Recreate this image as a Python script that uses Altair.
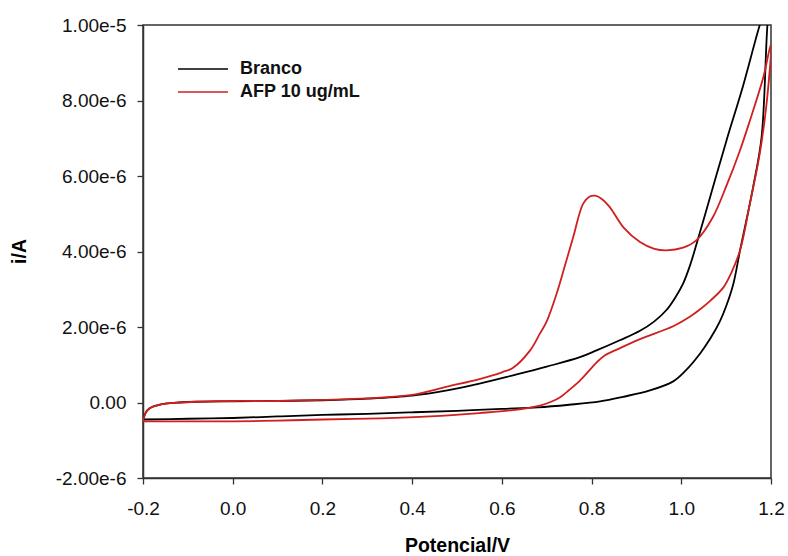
import altair as alt
import pandas as pd

# Branco (blank) cyclic voltammogram: potential (V) and current (µA), in scan order
branco_v = [-0.2, -0.195, -0.19, -0.18, -0.17, -0.15, -0.12, -0.08, 0.0, 0.1, 0.2, 0.3, 0.4, 0.478,
            0.55, 0.625, 0.7, 0.774, 0.811, 0.863, 0.908, 0.94, 0.967, 0.985, 1.004, 1.02, 1.034,
            1.056, 1.079, 1.101, 1.138, 1.175, 1.195, 1.2,
            1.192, 1.179, 1.16, 1.131, 1.116, 1.1, 1.086, 1.065, 1.042, 1.01, 0.982, 0.93, 0.87,
            0.819, 0.75, 0.68, 0.6, 0.5, 0.4, 0.3, 0.2, 0.1, 0.0, -0.1, -0.2]
branco_i = [-0.45, -0.3, -0.2, -0.12, -0.08, -0.03, 0.0, 0.02, 0.03, 0.04, 0.06, 0.1, 0.18, 0.32,
            0.5, 0.72, 0.95, 1.2, 1.38, 1.65, 1.9, 2.15, 2.45, 2.75, 3.15, 3.65, 4.2,
            5.1, 6.05, 6.95, 8.4, 10.0, 10.7, 11.0,
            10.0, 7.03, 5.7, 4.03, 3.14, 2.55, 2.15, 1.7, 1.3, 0.85, 0.56, 0.32, 0.15,
            0.03, -0.06, -0.13, -0.17, -0.22, -0.26, -0.3, -0.33, -0.37, -0.41, -0.43, -0.45]

# AFP 10 ug/mL cyclic voltammogram: potential (V) and current (µA), in scan order
afp_v = [-0.2, -0.195, -0.19, -0.18, -0.17, -0.15, -0.12, -0.08, 0.0, 0.1, 0.2, 0.3, 0.4, 0.478,
         0.55, 0.6, 0.625, 0.663, 0.685, 0.7, 0.722, 0.74, 0.759, 0.781, 0.795, 0.808, 0.822,
         0.841, 0.871, 0.908, 0.94, 0.967, 1.004, 1.034, 1.07, 1.101, 1.13, 1.153, 1.183, 1.2,
         1.19, 1.175, 1.153, 1.131, 1.112, 1.094, 1.065, 1.042, 1.019, 0.982, 0.908, 0.856,
         0.83, 0.812, 0.795, 0.774, 0.75, 0.73, 0.71, 0.685, 0.625, 0.55, 0.44, 0.33, 0.2,
         0.1, 0.0, -0.1, -0.2]
afp_i = [-0.48, -0.3, -0.2, -0.12, -0.08, -0.03, 0.0, 0.02, 0.04, 0.04, 0.07, 0.11, 0.2, 0.42,
         0.62, 0.8, 0.92, 1.38, 1.83, 2.15, 2.88, 3.6, 4.38, 5.26, 5.45, 5.48, 5.4,
         5.17, 4.64, 4.25, 4.07, 4.03, 4.1, 4.3, 4.9, 5.75, 6.65, 7.47, 8.62, 9.5,
         7.9, 6.6, 5.27, 4.03, 3.45, 3.05, 2.7, 2.47, 2.27, 2.02, 1.68, 1.4,
         1.25, 1.07, 0.85, 0.58, 0.33, 0.14, 0.02, -0.08, -0.2, -0.28, -0.37, -0.42, -0.45,
         -0.48, -0.5, -0.5, -0.5]

series_names = ["Branco", "AFP 10 ug/mL"]
series_colors = ["#000000", "#d01f1f"]

x_ticks = [-0.2, 0.0, 0.2, 0.4, 0.6, 0.8, 1.0, 1.2]
y_ticks = [-2e-6, 0.0, 2e-6, 4e-6, 6e-6, 8e-6, 1e-5]

rows = []
for name, vs, cs in [(series_names[0], branco_v, branco_i), (series_names[1], afp_v, afp_i)]:
    for k, (v, c) in enumerate(zip(vs, cs)):
        rows.append({"serie": name, "step": k, "E": v, "I": c * 1e-6})
df = pd.DataFrame(rows)

FONT = "Liberation Sans"

chart = alt.Chart(df).mark_line(strokeWidth=1.8, clip=True, interpolate="catmull-rom").encode(
    x=alt.X("E:Q",
            scale=alt.Scale(domain=[-0.2, 1.2], nice=False, zero=False),
            axis=alt.Axis(title="Potencial/V", values=x_ticks, grid=False,
                          labelExpr="replace(format(datum.value, '.1f'), '\u2212', '-')",
                          tickSize=6, labelPadding=15, labelFontSize=19, labelFont=FONT,
                          labelColor="#111", titleFont=FONT, titleFontSize=19.5, titleFontWeight="bold",
                          titleX=314, titleY=73, titleBaseline="alphabetic", titleAlign="center",
                          domainColor="#333", tickColor="#333", domainWidth=1.5, tickWidth=1.3,
                          labelFlush=False)),
    y=alt.Y("I:Q",
            scale=alt.Scale(domain=[-2e-6, 1e-5], nice=False, zero=False),
            axis=alt.Axis(title="i/A", values=y_ticks, grid=False,
                          labelExpr="datum.value == 0 ? '0.00' : replace(format(datum.value, '.2e'), '\u2212', '-')",
                          tickSize=6, labelPadding=11, labelFontSize=19, labelFont=FONT,
                          labelColor="#111", titleFont=FONT, titleFontSize=19.5, titleFontWeight="bold",
                          titleAngle=-90, titleX=-118, titleY=226, titleBaseline="alphabetic",
                          titleAlign="center", domainColor="#333", tickColor="#333",
                          domainWidth=1.5, tickWidth=1.3, labelFlush=False)),
    color=alt.Color("serie:N",
                    scale=alt.Scale(domain=series_names, range=series_colors),
                    legend=alt.Legend(title=None, orient="none", legendX=51, legendY=35,
                                      symbolType="M-5,0L5,0", symbolSize=100, symbolStrokeWidth=1.6,
                                      labelFont=FONT, labelFontSize=18, labelFontWeight="bold",
                                      labelColor="#111", labelOffset=28, rowPadding=5, padding=0)),
    order=alt.Order("step:Q"),
    detail="serie:N",
).properties(
    width=628, height=453,
    autosize=alt.AutoSizeParams(type="none"),
    padding={"left": 143, "top": 25, "right": 17, "bottom": 78},
).configure_view(stroke="#333", strokeWidth=1.5)

chart.save("out.html", embed_options={"renderer": "svg", "actions": False})
